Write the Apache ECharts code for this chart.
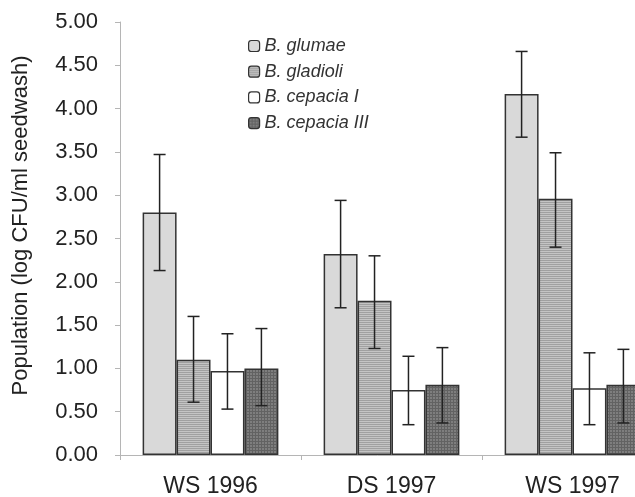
<!DOCTYPE html>
<html>
<head>
<meta charset="utf-8">
<script src="https://cdn.jsdelivr.net/npm/echarts@6/dist/echarts.min.js"></script>
<style>html,body{margin:0;padding:0;background:#fff}#c{width:635px;height:497px}</style>
</head>
<body>
<div id="c"></div>
<script>
const categories = ['WS 1996', 'DS 1997', 'WS 1997'];
const seriesNames = ['B. glumae', 'B. gladioli', 'B. cepacia I', 'B. cepacia III'];
const glumae = [2.80, 2.32, 4.17];
const glumaeLow = [2.13, 1.70, 3.67];
const glumaeHigh = [3.47, 2.94, 4.66];
const gladioli = [1.10, 1.78, 2.96];
const gladioliLow = [0.61, 1.23, 2.40];
const gladioliHigh = [1.60, 2.30, 3.49];
const cepaciaI = [0.97, 0.75, 0.77];
const cepaciaILow = [0.53, 0.35, 0.35];
const cepaciaIHigh = [1.40, 1.14, 1.18];
const cepaciaIII = [1.00, 0.81, 0.81];
const cepaciaIIILow = [0.57, 0.37, 0.37];
const cepaciaIIIHigh = [1.46, 1.24, 1.22];
const yTicks = [0, 0.5, 1, 1.5, 2, 2.5, 3, 3.5, 4, 4.5, 5];

function stripeCanvas() {
  const c = document.createElement('canvas'); c.width = 4; c.height = 4;
  const g = c.getContext('2d');
  g.fillStyle = '#c4c4c4'; g.fillRect(0, 0, 4, 4);
  g.fillStyle = '#a0a0a0'; g.fillRect(0, 0, 4, 1); g.fillRect(0, 2, 4, 1);
  return c;
}
function gridCanvas() {
  const c = document.createElement('canvas'); c.width = 3; c.height = 3;
  const g = c.getContext('2d');
  g.fillStyle = '#7e7e7e'; g.fillRect(0, 0, 3, 3);
  g.fillStyle = '#626262'; g.fillRect(0, 0, 3, 1); g.fillRect(0, 0, 1, 3);
  return c;
}
const fills = ['#d9d9d9', {image: stripeCanvas(), repeat: 'repeat'}, '#ffffff', {image: gridCanvas(), repeat: 'repeat'}];
const values = [glumae, gladioli, cepaciaI, cepaciaIII];
const lows = [glumaeLow, gladioliLow, cepaciaILow, cepaciaIIILow];
const highs = [glumaeHigh, gladioliHigh, cepaciaIHigh, cepaciaIIIHigh];
const font = '"Liberation Sans", Arial, sans-serif';

const series = [];
seriesNames.forEach((n, i) => {
  series.push({
    name: n, type: 'bar', data: values[i],
    barGap: '0%', barCategoryGap: '25%',
    itemStyle: {color: fills[i], borderColor: '#333', borderWidth: 1.5},
    emphasis: {disabled: true}
  });
});
seriesNames.forEach((n, i) => {
  series.push({
    type: 'custom', name: n + ' err', z: 10, silent: true,
    data: categories.map((c, k) => [k, lows[i][k], highs[i][k]]),
    encode: {x: 0, y: [1, 2]},
    renderItem: function (params, api) {
      const k = api.value(0);
      const lo = api.coord([k, api.value(1)]);
      const hi = api.coord([k, api.value(2)]);
      const cw = api.size([1, 0])[0];
      const bw = cw * 0.75 / 4;
      const x = lo[0] + (i - 1.5) * bw;
      const hw = 6;
      const st = {stroke: '#222', lineWidth: 1.5};
      return {type: 'group', children: [
        {type: 'line', shape: {x1: x, y1: hi[1], x2: x, y2: lo[1]}, style: st},
        {type: 'line', shape: {x1: x - hw, y1: hi[1], x2: x + hw, y2: hi[1]}, style: st},
        {type: 'line', shape: {x1: x - hw, y1: lo[1], x2: x + hw, y2: lo[1]}, style: st}
      ]};
    }
  });
});

const chart = echarts.init(document.getElementById('c'), null, {renderer: 'canvas'});
chart.setOption({
  animation: false,
  backgroundColor: '#fff',
  textStyle: {fontFamily: font},
  legend: {
    data: seriesNames, orient: 'vertical', left: 243, top: 32,
    itemWidth: 11, itemHeight: 11, itemGap: 7.7,
    selectedMode: false,
    textStyle: {fontFamily: font, fontStyle: 'italic', fontSize: 18, color: '#333', lineHeight: 18},
    itemStyle: {borderColor: '#333', borderWidth: 1.2}
  },
  grid: {left: 120, top: 22, bottom: 42, width: 543, outerBoundsMode: 'none', containLabel: false},
  xAxis: {
    type: 'category', data: categories,
    axisLine: {lineStyle: {color: '#b5b5b5', width: 1}},
    axisTick: {show: true, length: 5, lineStyle: {color: '#b5b5b5'}},
    axisLabel: {fontSize: 23, color: '#222', margin: 20, fontFamily: font}
  },
  yAxis: {
    type: 'value', min: 0, max: 5, interval: 0.5,
    name: 'Population (log CFU/ml seedwash)', nameLocation: 'middle', nameGap: 88,
    nameTextStyle: {fontSize: 22, color: '#222', fontFamily: font, padding: [0, 0, 0, 26]},
    axisLine: {show: true, lineStyle: {color: '#b5b5b5', width: 1}},
    axisTick: {show: true, length: 5, lineStyle: {color: '#b5b5b5'}},
    splitLine: {show: false},
    axisLabel: {fontSize: 22, color: '#222', margin: 22, fontFamily: font,
      formatter: v => yTicks.indexOf(v) >= 0 ? v.toFixed(2) : ''}
  },
  series: series
});
</script>
</body>
</html>
